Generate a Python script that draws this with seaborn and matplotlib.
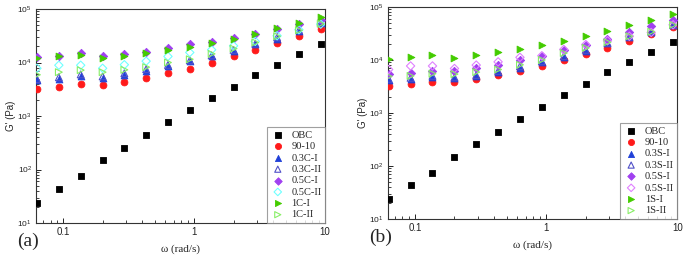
import matplotlib
matplotlib.use("Agg")
import matplotlib.pyplot as plt
import seaborn as sns
from matplotlib.ticker import LogLocator, NullFormatter

sns.set_theme(style="white")
plt.rcParams['font.family'] = ['Liberation Sans', 'DejaVu Sans']

# angular frequency (rad/s)
omega = [0.063, 0.0926, 0.136, 0.2, 0.293, 0.43, 0.631, 0.926, 1.36, 2.0, 2.93, 4.3, 6.31, 9.26]

# G' (Pa), shared by both panels
obc = [24, 43, 75, 148, 258, 440, 760, 1300, 2140, 3500, 5800, 9100, 14400, 21800]
blend_90_10 = [3250, 3560, 3900, 3800, 4400, 5200, 6300, 7700, 9900, 13000, 17000, 23000, 31000, 42000]

# panel (a)
c03_1 = [4650, 5000, 5600, 5200, 5900, 7000, 8600, 10500, 13000, 16500, 21800, 28000, 39000, 55000]
c03_2 = [4900, 5300, 6000, 5500, 6300, 7500, 9000, 11000, 13600, 17200, 22500, 29500, 40500, 56000]
c05_1 = [12600, 13400, 15200, 13000, 14400, 16000, 18600, 21800, 24500, 28700, 34000, 43000, 52000, 63000]
c05_2 = [7800, 8900, 8900, 7800, 9100, 10600, 13000, 15400, 17300, 20500, 24800, 31600, 41000, 52000]
c1_1 = [12000, 13000, 13700, 12000, 13400, 15000, 17300, 19500, 23000, 28000, 34500, 43500, 55000, 71000]
c1_2 = [5900, 6600, 7200, 6600, 7300, 8200, 10000, 11500, 14500, 18200, 23700, 31000, 40000, 53000]

# panel (b)
s03_1 = [4200, 4300, 4800, 4500, 4900, 5900, 7200, 9000, 11400, 15000, 20600, 27000, 34000, 45000]
s03_2 = [4400, 4600, 5000, 4700, 5200, 6200, 7600, 9400, 11800, 15500, 21000, 27500, 34500, 45500]
s05_1 = [5500, 5600, 6300, 6300, 6900, 8100, 9800, 12000, 15100, 19400, 25000, 33000, 43000, 57000]
s05_2 = [6600, 7700, 7700, 6900, 8000, 9200, 11200, 12000, 15800, 19500, 23000, 28000, 33000, 46000]
s1_1 = [10600, 11200, 12400, 11000, 12300, 13900, 16100, 19000, 23000, 28700, 35800, 45000, 57700, 74500]
s1_2 = [4900, 5000, 5500, 5400, 5900, 6600, 8100, 10000, 13500, 16900, 21600, 28000, 34000, 46000]

# (label, values, marker, colour, filled)
series_a = [
    ("OBC", obc, "s", "#000000", True),
    ("90-10", blend_90_10, "o", "#ff1a1a", True),
    ("0.3C-I", c03_1, "^", "#2040d8", True),
    ("0.3C-II", c03_2, "^", "#5050c8", False),
    ("0.5C-I", c05_1, "D", "#a040f0", True),
    ("0.5C-II", c05_2, "D", "#70ffff", False),
    ("1C-I", c1_1, ">", "#44cc00", True),
    ("1C-II", c1_2, ">", "#88ee66", False),
]
series_b = [
    ("OBC", obc, "s", "#000000", True),
    ("90-10", blend_90_10, "o", "#ff1a1a", True),
    ("0.3S-I", s03_1, "^", "#2040d8", True),
    ("0.3S-II", s03_2, "^", "#5050c8", False),
    ("0.5S-I", s05_1, "D", "#a040f0", True),
    ("0.5S-II", s05_2, "D", "#e080ff", False),
    ("1S-I", s1_1, ">", "#44cc00", True),
    ("1S-II", s1_2, ">", "#88ee66", False),
]

fig = plt.figure(figsize=(6.85, 2.57), dpi=100)
ax_a = fig.add_axes([0.0526, 0.132, 0.422, 0.833])
ax_b = fig.add_axes([0.566, 0.148, 0.423, 0.825])


def draw_panel(ax, series, tag):
    for label, vals, mk, col, filled in series:
        size = 24 if mk != "D" else 18
        if filled:
            sns.scatterplot(x=omega, y=vals, marker=mk, color=col, edgecolor=col,
                            s=size, linewidth=0.6, label=label, ax=ax, zorder=3)
        else:
            sns.scatterplot(x=omega, y=vals, marker=mk, facecolor="none", edgecolor=col,
                            s=size, linewidth=0.8, label=label, ax=ax, zorder=3)
    ax.set_xscale("log")
    ax.set_yscale("log")
    ax.set_xlim(0.062, 10)
    ax.set_ylim(10, 1e5)
    ax.xaxis.set_minor_locator(LogLocator(base=10, subs=range(2, 10)))
    ax.yaxis.set_minor_locator(LogLocator(base=10, subs=range(2, 10)))
    ax.xaxis.set_minor_formatter(NullFormatter())
    ax.set_xticks([0.1, 1, 10])
    ax.set_xticklabels(["0.1", "1", "10"])
    ax.tick_params(which="both", direction="in", left=True, bottom=True,
                   top=False, right=False, labelsize=7, pad=3, colors="#222222")
    ax.tick_params(which="major", length=3.5, width=0.7)
    ax.tick_params(which="minor", length=2, width=0.6)
    ax.tick_params(axis="y", labelsize=6)
    for sp in ax.spines.values():
        sp.set_color("#333333")
        sp.set_linewidth(0.8)
    ax.set_xlabel("ω (rad/s)", family=["Liberation Serif"], fontsize=8, labelpad=5)
    ax.set_ylabel("G' (Pa)", fontsize=7, labelpad=1)
    leg = ax.legend(loc="lower right", borderaxespad=0,
                    prop={"family": "Liberation Serif", "size": 7.5},
                    frameon=True, fancybox=False, handletextpad=0.6,
                    labelspacing=0.2, borderpad=0.35, markerscale=0.9,
                    handlelength=1.4)
    leg.get_frame().set_edgecolor("#888888")
    leg.get_frame().set_linewidth(0.8)
    ax.text(-0.065, -0.085, tag, transform=ax.transAxes, fontsize=14,
            family="Liberation Serif", ha="left", va="center")


draw_panel(ax_a, series_a, "(a)")
draw_panel(ax_b, series_b, "(b)")

fig.savefig("out.png", dpi=100)
